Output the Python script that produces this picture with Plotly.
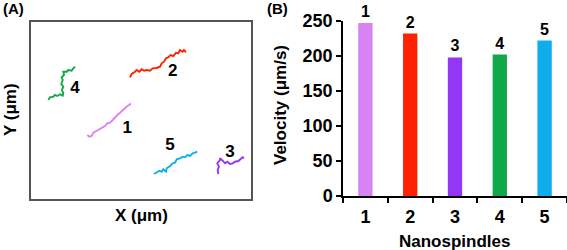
import plotly.graph_objects as go

W, H = 567, 250

# ---------- Panel A: trajectories (arbitrary position units) ----------
traj_names = ["1", "2", "3", "4", "5"]
traj_colors = ["#D883F2", "#FF2200", "#9436F5", "#10A84A", "#0EAEEC"]

t1_x = [87.3, 89.3, 91.7, 93.3, 96.7, 99.3, 101.7, 105.0, 107.3, 110.0, 112.7, 115.0, 117.3, 120.0, 122.7, 125.0, 127.3, 129.3, 130.7]
t1_y = [135.0, 136.7, 136.0, 132.7, 130.7, 129.3, 128.3, 126.0, 123.3, 122.7, 120.0, 117.3, 115.0, 112.7, 110.0, 108.3, 106.0, 105.0, 103.3]

t2_x = [130.0, 131.7, 135.0, 136.7, 139.3, 141.7, 144.0, 146.7, 150.0, 152.7, 156.7, 160.0, 161.7, 164.0, 166.0, 168.3, 170.7, 173.3, 176.0, 178.3, 180.0, 182.7, 184.0, 186.0]
t2_y = [77.3, 74.0, 71.7, 70.0, 71.7, 69.3, 70.7, 70.0, 70.7, 68.3, 68.0, 66.7, 63.3, 61.7, 58.3, 57.3, 55.0, 56.0, 52.7, 53.3, 50.0, 51.7, 50.0, 52.3]

t3_x = [218.3, 217.7, 219.0, 217.3, 220.0, 220.0, 222.7, 225.0, 227.3, 230.0, 232.7, 235.0, 238.3, 240.0, 242.7, 244.0]
t3_y = [174.0, 170.0, 166.7, 163.3, 160.0, 158.3, 160.7, 163.3, 161.7, 164.0, 163.3, 161.7, 161.0, 159.3, 157.3, 158.3]

t4_x = [48.3, 50.0, 53.3, 55.0, 57.3, 60.0, 62.7, 63.3, 62.0, 63.3, 61.3, 62.7, 61.7, 64.0, 63.3, 66.7, 68.3, 71.7, 73.3, 75.0]
t4_y = [100.0, 97.3, 96.7, 95.0, 96.0, 94.3, 95.7, 93.3, 90.0, 86.7, 84.0, 80.0, 77.3, 75.0, 71.7, 71.7, 70.0, 70.7, 68.3, 66.7]

t5_x = [154.0, 156.7, 159.3, 161.7, 163.3, 166.0, 166.7, 170.0, 172.7, 175.0, 176.7, 180.0, 182.7, 185.0, 187.3, 190.0, 192.7, 195.0, 197.3]
t5_y = [174.0, 172.7, 170.7, 171.7, 169.3, 171.7, 168.3, 166.0, 163.3, 162.7, 159.3, 158.3, 156.7, 157.3, 155.0, 156.0, 153.3, 152.7, 151.7]

traj_xs = [t1_x, t2_x, t3_x, t4_x, t5_x]
traj_ys = [t1_y, t2_y, t3_y, t4_y, t5_y]

label_x = [127.3, 172.7, 230.0, 75.0, 170.0]
label_y = [128.3, 71.7, 152.7, 89.0, 145.7]

# ---------- Panel B: velocities ----------
categories = ["1", "2", "3", "4", "5"]
velocity = [247, 232, 198, 202, 222]
y_ticks = [0, 50, 100, 150, 200, 250]

FONT = "Liberation Sans, Arial, sans-serif"

fig = go.Figure()

for i in range(5):
    fig.add_trace(go.Scatter(
        x=traj_xs[i], y=traj_ys[i], mode="lines",
        line=dict(color=traj_colors[i], width=1.9),
        xaxis="x", yaxis="y", showlegend=False, hoverinfo="skip"))

fig.add_trace(go.Scatter(
    x=label_x, y=label_y, mode="text", text=traj_names,
    textfont=dict(family=FONT, size=17, color="black", weight="bold"),
    xaxis="x", yaxis="y", showlegend=False, hoverinfo="skip", cliponaxis=False))

fig.add_trace(go.Bar(
    x=categories, y=velocity, marker=dict(color=traj_colors, line=dict(width=0)),
    width=0.32, text=categories, textposition="outside",
    textfont=dict(family=FONT, size=16, color="black", weight="bold"),
    cliponaxis=False, xaxis="x2", yaxis="y2", showlegend=False))


def ann(text, px, py, size, angle=0):
    return dict(text=text, x=px / W, y=1 - py / H, xref="paper", yref="paper",
                xanchor="center", yanchor="middle", textangle=angle,
                showarrow=False, font=dict(size=size, weight="bold"))


fig.update_layout(
    width=W, height=H,
    margin=dict(l=0, r=0, t=0, b=0, pad=0, autoexpand=False),
    plot_bgcolor="white", paper_bgcolor="white",
    font=dict(family=FONT, color="black"),
    xaxis=dict(domain=[31 / W, 251 / W], range=[31, 251], showticklabels=False,
               ticks="", showgrid=False, zeroline=False, automargin=False,
               showline=True, mirror=True, linecolor="#555555", linewidth=2),
    yaxis=dict(domain=[1 - 199 / H, 1 - 22 / H], range=[199, 22], showticklabels=False,
               ticks="", showgrid=False, zeroline=False, automargin=False,
               showline=True, mirror=True, linecolor="#555555", linewidth=2),
    xaxis2=dict(domain=[343 / W, 1.0], type="category", range=[-0.5, 4.5],
                anchor="y2", showgrid=False, zeroline=False, automargin=False,
                showline=True, linecolor="black", linewidth=1.5,
                ticks="outside", tickson="boundaries", ticklen=5, tickwidth=1.5, tickcolor="black",
                ticklabelstandoff=4,
                tickfont=dict(family=FONT, size=18, color="black", weight="bold")),
    yaxis2=dict(domain=[1 - 196 / H, 1 - 21 / H], range=[0, 250], anchor="x2",
                tickvals=y_ticks, showgrid=False, zeroline=False, automargin=False,
                showline=True, linecolor="black", linewidth=1.5,
                ticks="outside", ticklen=5, tickwidth=1.5, tickcolor="black",
                tickfont=dict(family=FONT, size=18, color="black", weight="bold")),
    annotations=[
        ann("(A)", 13, 8, 15),
        ann("(B)", 277, 8, 15),
        ann("Y (μm)", 11, 110, 17, -90),
        ann("X (μm)", 141, 215, 17),
        ann("Velocity (μm/s)", 281, 105, 17, -90),
        ann("Nanospindles", 454, 241, 17),
    ],
)

fig.write_html("out.html", config={"displayModeBar": False},
               post_script="document.body.style.margin='0';")
